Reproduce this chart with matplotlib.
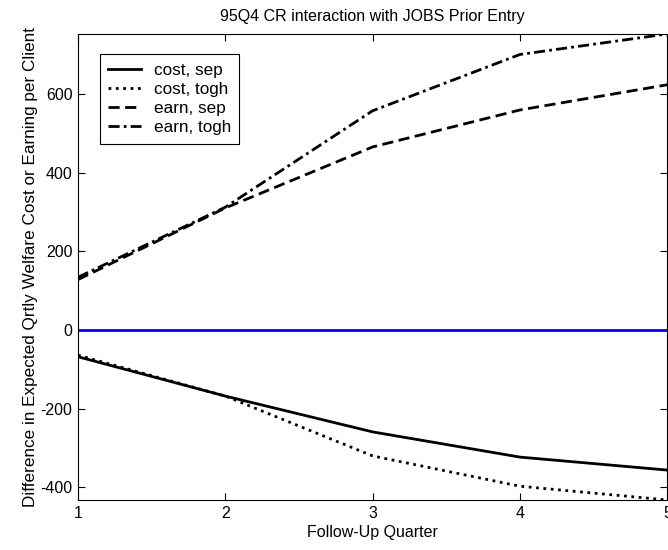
import matplotlib.pyplot as plt

plt.rcParams['font.family'] = ['Liberation Sans', 'DejaVu Sans']
plt.rcParams['axes.unicode_minus'] = False

quarters = [1, 2, 3, 4, 5]
cost_sep = [-68, -168, -259, -323, -356]
cost_togh = [-64, -168, -320, -397, -432]
earn_sep = [128, 310, 465, 559, 623]
earn_togh = [134, 312, 557, 700, 752]

fig = plt.figure(figsize=(6.68, 5.5), dpi=100)
ax = fig.add_axes([0.1168, 0.0909, 0.8822, 0.8473])

ax.plot(quarters, cost_sep, color='black', linestyle='-', lw=2, label='cost, sep')
ax.plot(quarters, cost_togh, color='black', linestyle=':', lw=2, label='cost, togh')
ax.plot(quarters, earn_sep, color='black', linestyle=(0, (4, 2)), lw=2, label='earn, sep')
ax.plot(quarters, earn_togh, color='black', linestyle=(0, (4, 1.5, 1, 1.5)), lw=2, label='earn, togh')
ax.axhline(0, color='blue', lw=2)

ax.set_xlim(1, 5)
ax.set_ylim(-432, 752)
ax.set_xticks(quarters)
ax.set_yticks([-400, -200, 0, 200, 400, 600])
ax.tick_params(direction='in', top=True, right=True, labelsize=11.5, length=5, pad=4)
for s in ax.spines.values():
    s.set_linewidth(0.8)

ax.set_title('95Q4 CR interaction with JOBS Prior Entry', fontsize=11.5, pad=9)
ax.set_xlabel('Follow-Up Quarter', fontsize=11.5, labelpad=3)
ax.set_ylabel('Difference in Expected Qrtly Welfare Cost or Earning per Client', fontsize=12.3, labelpad=2)

leg = ax.legend(loc='upper left', bbox_to_anchor=(0.037, 0.957), fontsize=12.3,
                handlelength=1.9, fancybox=False, framealpha=1, edgecolor='black',
                borderpad=0.5, labelspacing=0.25, handletextpad=0.75, borderaxespad=0)
leg.get_frame().set_linewidth(0.8)

fig.savefig('out.png', dpi=100)
